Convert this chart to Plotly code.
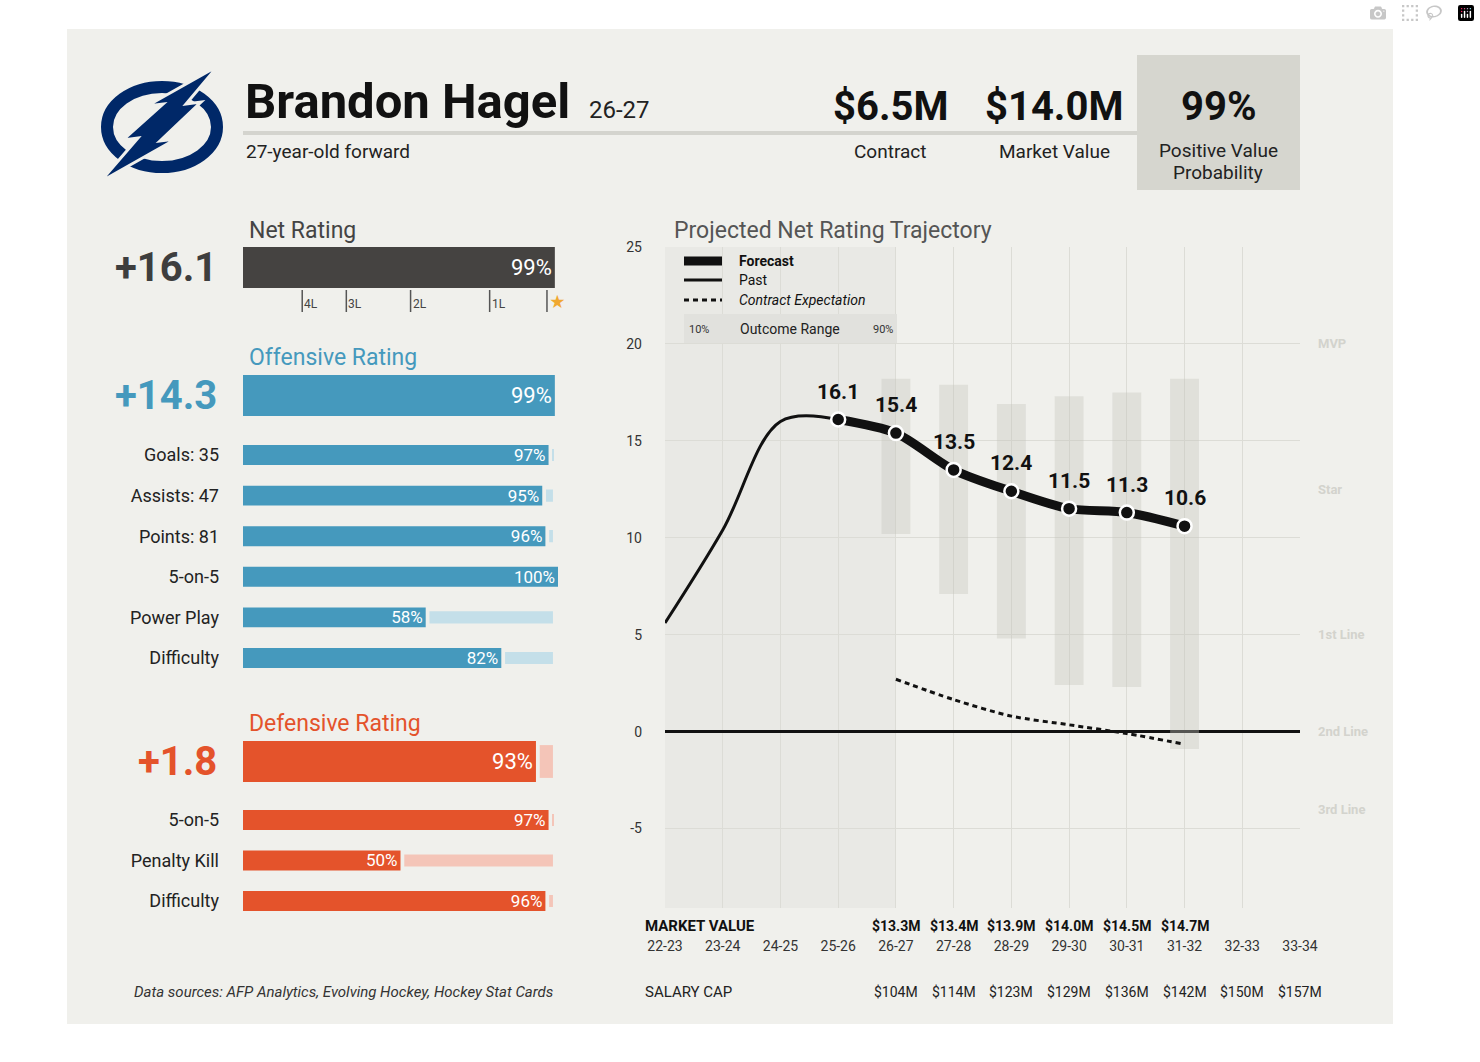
import plotly.graph_objects as go

W, H = 1480, 1062

# ---------------- data ----------------
player_name = "Brandon Hagel"
player_season = "26-27"
player_desc = "27-year-old forward"
header_values = ["$6.5M", "$14.0M", "99%"]
header_labels = ["Contract", "Market Value", "Positive Value", "Probability"]

net_value = "+16.1"
net_labels = ["Net"]
net_pcts = [99]
tier_marks = ["4L", "3L", "2L", "1L"]
tier_mark_pcts = [18.8, 32.8, 53.2, 78.3]
star_pct = [96.5]

off_value = "+14.3"
off_main_labels = ["Offense"]
off_main_pcts = [99]
off_labels = ["Goals: 35", "Assists: 47", "Points: 81", "5-on-5", "Power Play", "Difficulty"]
off_pcts = [97, 95, 96, 100, 58, 82]

def_value = "+1.8"
def_main_labels = ["Defense"]
def_main_pcts = [93]
def_labels = ["5-on-5", "Penalty Kill", "Difficulty"]
def_pcts = [97, 50, 96]

seasons = ["22-23", "23-24", "24-25", "25-26", "26-27", "27-28",
           "28-29", "29-30", "30-31", "31-32", "32-33", "33-34"]
past_seasons = ["22-23", "23-24", "24-25", "25-26"]
past_rating = [5.6, 10.4, 16.0, 16.1]
forecast_seasons = ["25-26", "26-27", "27-28", "28-29", "29-30", "30-31", "31-32"]
forecast_rating = [16.1, 15.4, 13.5, 12.4, 11.5, 11.3, 10.6]
range_seasons = ["26-27", "27-28", "28-29", "29-30", "30-31", "31-32"]
range_p10 = [10.2, 7.1, 4.8, 2.4, 2.3, -0.9]
range_p90 = [18.2, 17.9, 16.9, 17.3, 17.5, 18.2]
contract_expectation = [2.7, 1.65, 0.8, 0.35, -0.1, -0.65]
market_values = ["$13.3M", "$13.4M", "$13.9M", "$14.0M", "$14.5M", "$14.7M"]
cap_seasons = ["26-27", "27-28", "28-29", "29-30", "30-31", "31-32", "32-33", "33-34"]
salary_caps = ["$104M", "$114M", "$123M", "$129M", "$136M", "$142M", "$150M", "$157M"]
y_ticks = [-5, 0, 5, 10, 15, 20, 25]
y_tick_text = ["-5", "0", "5", "10", "15", "20", "25"]
tier_names = ["MVP", "Star", "1st Line", "2nd Line", "3rd Line"]
tier_levels = [20, 12.5, 5, 0, -4]
sources = "Data sources: AFP Analytics, Evolving Hockey, Hockey Stat Cards"

# ---------------- helpers ----------------
def fx(px):
    return px / W

def fy(py):
    return 1 - py / H

def xdom(a, b):
    return [a / W, b / W]

def ydom(top, bottom):
    return [1 - bottom / H, 1 - top / H]

FONT = "Roboto, Inter, sans-serif"
CARD = "#f0f0ec"
DARK = "#454341"
BLUE = "#4599bd"
BLUE_L = "#c4dfe9"
RED = "#e4532b"
RED_L = "#f4c5b8"
TXT = "#222222"
GRID = "#dcdcd6"
LOGO = "#002868"

fig = go.Figure()
shapes = []
annos = []


def text(x, y, s, size, color=TXT, weight="normal", xanchor="left", style="normal",
         xref="paper", yref="paper", yanchor="middle", yshift=0, family=FONT):
    annos.append(dict(x=x, y=y, xref=xref, yref=yref, text=s, showarrow=False,
                      xanchor=xanchor, yanchor=yanchor, yshift=yshift,
                      font=dict(family=family, size=size, color=color, weight=weight,
                                style=style)))


def pbox(x0, y0, x1, y1, color, layer="below"):
    shapes.append(dict(type="rect", xref="paper", yref="paper", x0=fx(x0), x1=fx(x1),
                       y0=fy(y1), y1=fy(y0), fillcolor=color, line=dict(width=0), layer=layer))


def pline(x0, y0, x1, y1, color, width, dash="solid", layer="above"):
    shapes.append(dict(type="line", xref="paper", yref="paper", x0=fx(x0), x1=fx(x1),
                       y0=fy(y0), y1=fy(y1), line=dict(color=color, width=width, dash=dash),
                       layer=layer))


# ---------------- card / header ----------------
pbox(67, 29, 1393, 1024, CARD)
pbox(1137, 55, 1300, 190, "#d6d6cf")
pline(243, 133, 1137, 133, "#d4d4ce", 4, layer="below")

# logo
shapes.append(dict(type="circle", xref="paper", yref="paper", x0=fx(107), x1=fx(217),
                   y0=fy(167), y1=fy(87), line=dict(color=LOGO, width=12),
                   fillcolor="rgba(0,0,0,0)", layer="above"))
bolt = [(218, 66), (186, 104), (201, 102), (160, 141), (176, 139), (100, 182),
        (138, 138), (123, 140), (163, 104), (147, 106)]
path = "M " + " L ".join(f"{fx(a):.5f},{fy(b):.5f}" for a, b in bolt) + " Z"
shapes.append(dict(type="path", xref="paper", yref="paper", path=path, fillcolor=LOGO,
                   line=dict(color=CARD, width=3), layer="above"))

text(fx(243), fy(101), player_name, 49, "#111", "bold")
text(fx(587), fy(110), player_season, 24, "#222")
text(fx(244), fy(151), player_desc, 19, "#222")
for cx, v in zip([890, 1054, 1218], header_values):
    text(fx(cx), fy(106), v, 40, "#111", "bold", xanchor="center")
text(fx(890), fy(151), header_labels[0], 19, xanchor="center")
text(fx(1054), fy(151), header_labels[1], 19, xanchor="center")
text(fx(1218), fy(150), header_labels[2], 19, xanchor="center")
text(fx(1218), fy(172), header_labels[3], 19, xanchor="center")

# ---------------- left bar panels ----------------
BAR_X = xdom(243, 558)
REM_END = 98.4
GAP = 1.2


def bar_group(idx, labels, pcts, color, light, dom, bar_w, rem_w, tsize, show_labels):
    xa = "x" if idx == 1 else f"x{idx}"
    ya = "y" if idx == 1 else f"y{idx}"
    fig.add_trace(go.Bar(
        y=labels, x=pcts, orientation="h", width=bar_w,
        marker=dict(color=color, line=dict(width=0)),
        text=[f"{p}%" for p in pcts], textposition="inside", insidetextanchor="end",
        constraintext="none",
        textfont=dict(family=FONT, size=tsize, color="white"),
        xaxis=xa, yaxis=ya, hoverinfo="skip"))
    rl = [l for l, p in zip(labels, pcts) if p < 99]
    rb = [p + GAP for p in pcts if p < 99]
    rx = [max(REM_END - (p + GAP), 0.5) for p in pcts if p < 99]
    if rl:
        fig.add_trace(go.Bar(y=rl, x=rx, base=rb, orientation="h", width=rem_w,
                             marker=dict(color=light, line=dict(width=0)),
                             xaxis=xa, yaxis=ya, hoverinfo="skip"))
    n = len(labels)
    key = "" if idx == 1 else str(idx)
    fig.update_layout(**{
        f"xaxis{key}": dict(domain=BAR_X, range=[0, 100], visible=False, anchor=ya,
                            fixedrange=True),
        f"yaxis{key}": dict(domain=dom, type="category", range=[n - 0.5, -0.5],
                            anchor=xa, showgrid=False, zeroline=False, ticks="",
                            showticklabels=show_labels, ticklabelstandoff=23,
                            tickfont=dict(family=FONT, size=18, color=TXT),
                            fixedrange=True),
    })


bar_group(1, net_labels, net_pcts, DARK, "#cccccc", ydom(247, 288), 1.0, 0.8, 22, False)
bar_group(2, off_main_labels, off_main_pcts, BLUE, BLUE_L, ydom(375, 416), 1.0, 0.8, 22, False)
bar_group(3, off_labels, off_pcts, BLUE, BLUE_L, ydom(434.7, 678.3), 0.49, 0.3, 17, True)
bar_group(4, def_main_labels, def_main_pcts, RED, RED_L, ydom(741, 782), 1.0, 0.8, 22, False)
bar_group(5, def_labels, def_pcts, RED, RED_L, ydom(799.8, 921.2), 0.49, 0.3, 17, True)

# panel titles and big numbers
text(fx(247), fy(231), "Net Rating", 23, "#444")
text(fx(247), fy(358), "Offensive Rating", 23, BLUE)
text(fx(247), fy(723), "Defensive Rating", 23, RED)
text(fx(219), fy(267), net_value, 40, "#3e3e3e", "bold", xanchor="right")
text(fx(219), fy(395), off_value, 40, BLUE, "bold", xanchor="right")
text(fx(219), fy(761), def_value, 40, RED, "bold", xanchor="right")

# net rating tier marks
for lab, p in zip(tier_marks, tier_mark_pcts):
    shapes.append(dict(type="line", xref="x", yref="paper", x0=p, x1=p, y0=fy(312), y1=fy(290),
                       line=dict(color="#555", width=1.5)))
    text(p, fy(304), lab, 12, "#444", xref="x", xanchor="left")
for p in star_pct:
    shapes.append(dict(type="line", xref="x", yref="paper", x0=p, x1=p, y0=fy(312), y1=fy(290),
                       line=dict(color="#555", width=1.5)))
    text(p, fy(302), "★", 16, "#f0a830", xref="x", xanchor="left")

text(fx(132), fy(992), sources, 15, "#333", style="italic")

# ---------------- trajectory chart ----------------
shapes.append(dict(type="rect", xref="x6", yref="y6 domain", x0=0, x1=4, y0=0, y1=1,
                   fillcolor="#e9e9e5", line=dict(width=0), layer="below"))

fig.add_trace(go.Bar(
    x=range_seasons, y=[h - l for h, l in zip(range_p90, range_p10)], base=range_p10,
    width=0.5, marker=dict(color="rgba(196,196,188,0.38)", line=dict(width=0)),
    xaxis="x6", yaxis="y6", hoverinfo="skip"))
fig.add_trace(go.Scatter(
    x=range_seasons, y=contract_expectation, mode="lines",
    line=dict(color="#111", width=3, dash="5px,4px", shape="spline", smoothing=0.8),
    xaxis="x6", yaxis="y6", hoverinfo="skip"))
fig.add_trace(go.Scatter(
    x=past_seasons, y=past_rating, mode="lines",
    line=dict(color="#111", width=3, shape="spline", smoothing=1),
    xaxis="x6", yaxis="y6", hoverinfo="skip"))
fig.add_trace(go.Scatter(
    x=forecast_seasons, y=forecast_rating, mode="lines+markers",
    line=dict(color="#111", width=9, shape="spline", smoothing=0.8),
    marker=dict(size=14, color="#111", line=dict(color="white", width=2.5)),
    xaxis="x6", yaxis="y6", hoverinfo="skip"))
for s, v in zip(forecast_seasons, forecast_rating):
    text(s, v, f"{v:.1f}", 21, "#111", "bold", xanchor="center", xref="x6", yref="y6",
         yshift=28)

fig.update_layout(
    xaxis6=dict(domain=xdom(665, 1300), anchor="y6", type="category",
                categoryorder="array", categoryarray=seasons, range=[0, 11],
                showgrid=True, gridcolor=GRID, gridwidth=1, zeroline=False, showline=False,
                ticks="", ticklabelstandoff=28,
                tickfont=dict(family=FONT, size=14, color="#333"), fixedrange=True),
    yaxis6=dict(domain=ydom(247, 908), anchor="x6", range=[-9.1, 25],
                tickvals=y_ticks, ticktext=y_tick_text,
                showgrid=True, gridcolor=GRID, gridwidth=1,
                zeroline=True, zerolinecolor="#111", zerolinewidth=2.5, showline=False,
                ticks="", ticklabelstandoff=22,
                tickfont=dict(family=FONT, size=14, color="#333"), fixedrange=True),
)

text(fx(672), fy(231), "Projected Net Rating Trajectory", 23, "#555")

# in-chart legend
pline(684, 261, 722, 261, "#111", 9)
pline(684, 280, 722, 280, "#111", 3)
pline(684, 300, 722, 300, "#111", 3, dash="5px,4px")
text(fx(737), fy(261), "Forecast", 14, "#111", "bold")
text(fx(737), fy(280), "Past", 14, "#111")
text(fx(737), fy(300), "Contract Expectation", 14, "#111", style="italic")
pbox(684, 314, 897, 343, "#e1e1dd", layer="above")
text(fx(687), fy(329), "10%", 11, "#333")
text(fx(738), fy(329), "Outcome Range", 14, "#222")
text(fx(871), fy(329), "90%", 11, "#333")

# tier labels
for name, lvl in zip(tier_names, tier_levels):
    text(fx(1316), lvl, name, 13, "#d3d3cd", "bold", yref="y6")

# market value / salary cap rows
text(fx(643), fy(926), "MARKET VALUE", 15, "#111", "bold")
for s, mv in zip(range_seasons, market_values):
    text(s, fy(926), mv, 14, "#111", "bold", xanchor="center", xref="x6")
text(fx(643), fy(992), "SALARY CAP", 15, "#222")
for s, cap in zip(cap_seasons, salary_caps):
    text(s, fy(992), cap, 14, "#222", xanchor="center", xref="x6")

fig.update_layout(
    width=W, height=H, margin=dict(l=0, r=0, t=0, b=0, pad=0, autoexpand=False),
    paper_bgcolor="white", plot_bgcolor="rgba(0,0,0,0)",
    barmode="overlay", showlegend=False, hovermode=False,
    font=dict(family=FONT, color=TXT),
    shapes=shapes, annotations=annos,
)

fig.write_html("out.html", post_script="document.body.style.margin='0px';")
